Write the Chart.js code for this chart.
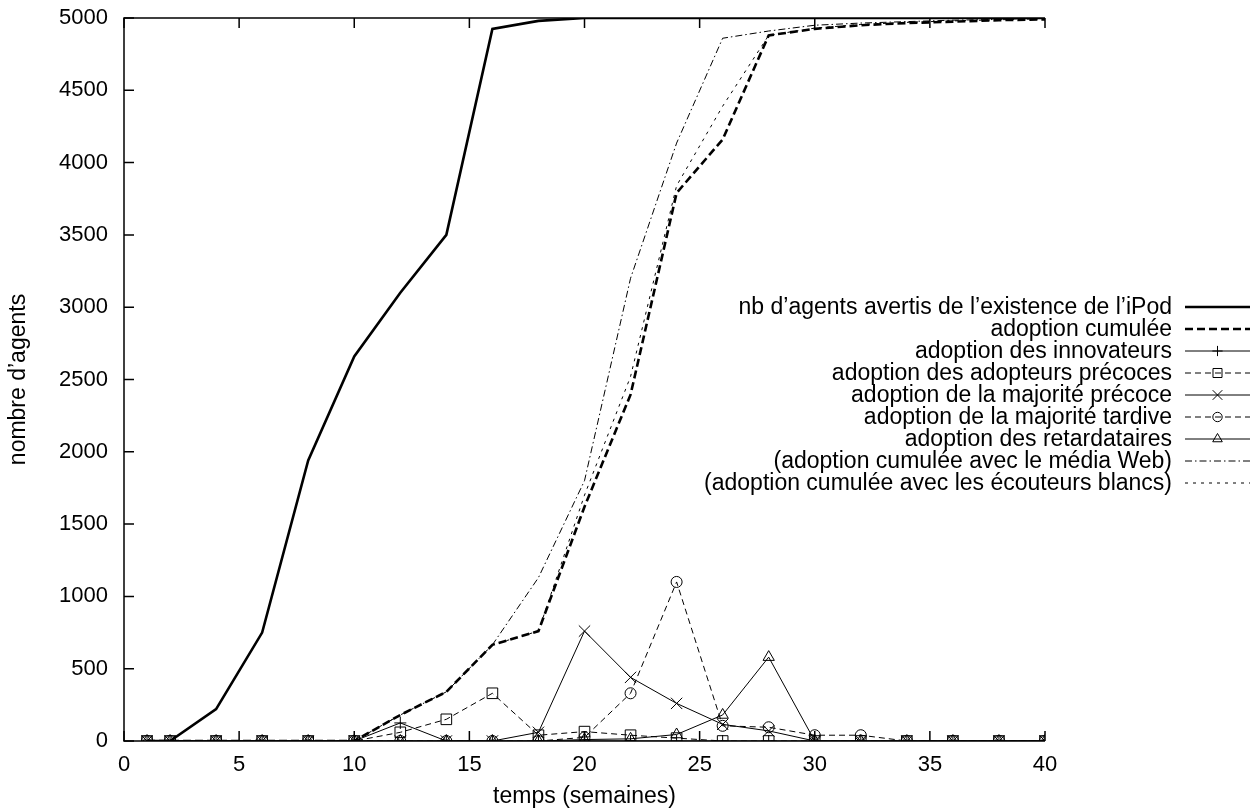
<!DOCTYPE html>
<html>
<head>
<meta charset="utf-8">
<script src="https://cdn.jsdelivr.net/npm/chart.js@4.4.1/dist/chart.umd.min.js"></script>
<style>
  html, body { margin: 0; padding: 0; background: #fff; }
  #wrap { width: 1254px; height: 810px; position: relative; }
</style>
</head>
<body>
<div id="wrap"><canvas id="c" width="1254" height="810"></canvas></div>
<script>
// ---- data ----
const weeks = [1, 2, 4, 6, 8, 10, 12, 14, 16, 18, 20, 22, 24, 26, 28, 30, 32, 34, 36, 38, 40];

const awareAgents   = [0, 0, 220, 750, 1940, 2660, 3100, 3500, 4925, 4980, 5000, 5000, 5000, 5000, 5000, 5000, 5000, 5000, 5000, 5000, 5000];
const cumulAdoption = [0, 0, 0, 0, 0, 0, 180, 340, 665, 760, 1620, 2395, 3790, 4160, 4880, 4925, 4950, 4965, 4975, 4985, 4990];
const innovators    = [0, 0, 0, 0, 0, 0, 125, 0, 0, 0, 0, 0, 0, 0, 0, 0, 0, 0, 0, 0, 0];
const earlyAdopters = [0, 0, 0, 0, 0, 0, 60, 150, 330, 40, 65, 40, 20, 0, 0, 0, 0, 0, 0, 0, 0];
const earlyMajority = [0, 0, 0, 0, 0, 0, 0, 0, 0, 60, 760, 440, 260, 115, 70, 0, 0, 0, 0, 0, 0];
const lateMajority  = [0, 0, 0, 0, 0, 0, 0, 0, 0, 0, 25, 330, 1100, 105, 95, 40, 40, 0, 0, 0, 0];
const laggards      = [0, 0, 0, 0, 0, 0, 0, 0, 0, 0, 10, 15, 45, 180, 580, 0, 0, 0, 0, 0, 0];
const cumulWeb      = [0, 0, 0, 0, 0, 0, 180, 340, 665, 1130, 1800, 3200, 4135, 4860, 4910, 4950, 4965, 4975, 4985, 4990, 5000];
const cumulWhiteEar = [0, 0, 0, 0, 0, 0, 180, 340, 665, 760, 1700, 2520, 3840, 4390, 4880, 4930, 4955, 4970, 4980, 4988, 4995];

const seriesLabels = [
  "nb d’agents avertis de l’existence de l’iPod",
  "adoption cumulée",
  "adoption des innovateurs",
  "adoption des adopteurs précoces",
  "adoption de la majorité précoce",
  "adoption de la majorité tardive",
  "adoption des retardataires",
  "(adoption cumulée avec le média Web)",
  "(adoption cumulée avec les écouteurs blancs)"
];

const xTicksStep = 5, xMin = 0, xMax = 40;
const yTicksStep = 500, yMin = 0, yMax = 5000;

const xLabel = "temps (semaines)";
const yLabel = "nombre d’agents";

// ---- build chart ----
const FONT = '"Liberation Sans", Arial, Helvetica, sans-serif';
const FS = 22;      // tick labels
const FS_T = 23;    // titles & key
const toPts = arr => weeks.map((w, i) => ({ x: w, y: arr[i] }));

const styles = [
  { data: awareAgents,   width: 2.6, dash: [],          point: false },
  { data: cumulAdoption, width: 2.6, dash: [8, 4],      point: false },
  { data: innovators,    width: 1,   dash: [],          point: 'cross',    r: 6 },
  { data: earlyAdopters, width: 1,   dash: [6, 4],      point: 'rect',     r: 7.5 },
  { data: earlyMajority, width: 1,   dash: [],          point: 'crossRot', r: 8 },
  { data: lateMajority,  width: 1,   dash: [6, 4],      point: 'circle',   r: 5.5 },
  { data: laggards,      width: 1,   dash: [],          point: 'triangle', r: 6.5 },
  { data: cumulWeb,      width: 1,   dash: [7, 3, 1.5, 3], point: false },
  { data: cumulWhiteEar, width: 1,   dash: [3, 5],      point: false }
];

const datasets = styles.map((s, i) => ({
  label: seriesLabels[i],
  data: toPts(s.data),
  borderColor: '#000',
  borderWidth: s.width,
  borderDash: s.dash,
  tension: 0,
  fill: false,
  pointStyle: s.point || 'circle',
  pointRadius: s.point ? s.r : 0,
  pointHoverRadius: s.point ? s.r : 0,
  pointBorderColor: '#000',
  pointBackgroundColor: 'rgba(0,0,0,0)',
  pointBorderWidth: 1,
  legendPointRadius: s.point ? s.r * 0.85 : 0
}));

const frame = {
  id: 'frame',
  beforeDatasetsDraw(chart) {
    const { ctx, chartArea: a, scales } = chart;
    ctx.save();
    ctx.strokeStyle = '#000';
    ctx.lineWidth = 1.5;
    ctx.setLineDash([]);
    ctx.beginPath();
    ctx.moveTo(a.right, a.top); ctx.lineTo(a.left, a.top);
    ctx.lineTo(a.left, a.bottom); ctx.lineTo(a.right, a.bottom);
    ctx.stroke();
    const tl = 10;
    ctx.beginPath();
    scales.y.ticks.forEach(t => {
      const p = scales.y.getPixelForValue(t.value);
      ctx.moveTo(a.left, p); ctx.lineTo(a.left + tl, p);
    });
    scales.x.ticks.forEach(t => {
      const p = scales.x.getPixelForValue(t.value);
      ctx.moveTo(p, a.bottom); ctx.lineTo(p, a.bottom - tl);
      ctx.moveTo(p, a.top); ctx.lineTo(p, a.top + tl);
    });
    ctx.stroke();
    ctx.restore();
  }
};

const keyLegend = {
  id: 'keyLegend',
  afterDraw(chart) {
    const { ctx } = chart;
    const textRight = 1172, x0 = 1185, x1 = 1250, y0 = 307, dy = 22;
    ctx.save();
    ctx.font = FS_T + 'px ' + FONT;
    ctx.textAlign = 'right';
    ctx.textBaseline = 'middle';
    chart.data.datasets.forEach((ds, i) => {
      const y = y0 + i * dy;
      ctx.fillStyle = '#000';
      ctx.fillText(ds.label, textRight, y + 1);
      ctx.strokeStyle = '#000';
      ctx.lineWidth = ds.borderWidth;
      ctx.setLineDash(ds.borderDash);
      ctx.beginPath();
      ctx.moveTo(x0, y); ctx.lineTo(x1, y);
      ctx.stroke();
      ctx.setLineDash([]);
      if (ds.pointRadius > 0) {
        ctx.lineWidth = 1;
        ctx.fillStyle = 'rgba(0,0,0,0)';
        Chart.helpers.drawPoint(ctx, {
          pointStyle: ds.pointStyle,
          radius: ds.legendPointRadius,
          rotation: 0,
          borderWidth: 1
        }, (x0 + x1) / 2, y);
      }
    });
    ctx.restore();
  }
};

new Chart(document.getElementById('c'), {
  type: 'line',
  data: { datasets },
  options: {
    responsive: false,
    animation: false,
    events: [],
    layout: { padding: { top: 18, right: 209, left: 0, bottom: 0 } },
    plugins: { legend: { display: false }, tooltip: { enabled: false } },
    scales: {
      x: {
        type: 'linear', min: xMin, max: xMax,
        afterFit: s => { s.height = 69; s.paddingLeft = 0; s.paddingRight = 0; },
        grid: { display: false, drawTicks: false },
        border: { display: false },
        ticks: { stepSize: xTicksStep, color: '#000', font: { family: FONT, size: FS }, padding: 11, maxRotation: 0,
                 callback: v => String(v) },
        title: { display: true, text: xLabel, color: '#000', font: { family: FONT, size: FS_T }, padding: { top: 0, bottom: 0 } }
      },
      y: {
        type: 'linear', min: yMin, max: yMax,
        afterFit: s => { s.width = 124; s.paddingTop = 0; s.paddingBottom = 0; },
        grid: { display: false, drawTicks: false },
        border: { display: false },
        ticks: { stepSize: yTicksStep, color: '#000', font: { family: FONT, size: FS }, padding: 16,
                 callback: v => String(v) },
        title: { display: true, text: yLabel, color: '#000', font: { family: FONT, size: FS_T }, padding: { top: 5, bottom: 0 } }
      }
    }
  },
  plugins: [frame, keyLegend]
});
</script>
</body>
</html>
